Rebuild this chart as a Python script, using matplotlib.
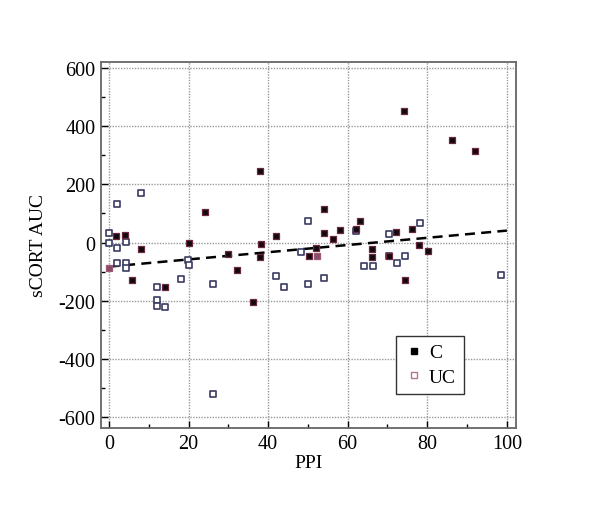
import matplotlib
matplotlib.use("Agg")
import matplotlib.pyplot as plt
from matplotlib.lines import Line2D
from matplotlib.ticker import MultipleLocator

plt.rcParams['font.family'] = ['Liberation Serif', 'DejaVu Serif']
plt.rcParams['axes.unicode_minus'] = False

# ---- data ----
c_x = [1.9, 4.0, 8.0, 5.9, 14.0, 20.0, 24.1, 30.0, 32.2, 36.2, 38.0, 38.1, 38.0,
       42.0, 50.2, 52.1, 54.0, 54.0, 56.2, 58.1, 62.2, 63.1, 66.2, 66.2, 70.4,
       72.2, 74.3, 74.2, 76.1, 78.0, 80.2, 86.2, 92.1]
c_y = [21, 27, -22, -129, -152, 0, 106, -40, -94, -205, 245, -6, -51,
       24, -46, -19, 115, 32, 11, 43, 45, 73, -23, -51, -46,
       37, -129, 453, 46, -9, -28, 354, 315]

uc_x = [0.0, 0.0, 2.1, 8.1, 4.2, 2.0, 2.0, 4.2, 4.2, 12.1, 12.1, 12.1, 14.1,
        18.2, 19.8, 20.0, 26.1, 26.1, 42.1, 44.1, 48.2, 50.1, 50.1, 54.1,
        62.2, 64.2, 66.3, 70.4, 70.4, 72.3, 74.4, 78.1, 98.5]
uc_y = [33, 0, 132, 169, 3, -19, -72, -72, -88, -154, -197, -217, -221,
        -124, -60, -77, -144, -520, -115, -154, -33, 74, -144, -122,
        38, -82, -82, 30, -48, -69, -46, 66, -112]

# points where both groups overlap (drawn in the mixed colour)
mix_x = [0.0, 52.2]
mix_y = [-88, -48]

# regression line: intercept and slope
fit_intercept = -83
fit_slope = 1.24
fit_x = [0, 100]

x_ticks = [0, 20, 40, 60, 80, 100]
y_ticks = [-600, -400, -200, 0, 200, 400, 600]

# ---- figure ----
fig = plt.figure(figsize=(6.0, 5.06), dpi=100)
ax = fig.add_axes([0.1683, 0.1522, 0.6917, 0.7239])

ax.set_xlim(-2, 102.3)
ax.set_ylim(-638, 622)

ax.grid(True, which='major', linestyle=(0, (1, 1)), color='#999999', linewidth=1.0)
ax.set_axisbelow(True)

fit_y = [fit_intercept + fit_slope * v for v in fit_x]
ax.plot(fit_x, fit_y, linestyle=(0, (4, 2.5)), color='black', linewidth=1.8, zorder=2)

ax.scatter(uc_x, uc_y, marker='s', s=25, facecolors='white', edgecolors='#3a3a62',
           linewidths=1.2, zorder=3)
ax.scatter(c_x, c_y, marker='s', s=24, facecolors='#140810', edgecolors='#6a2a3c',
           linewidths=0.9, zorder=4)
ax.scatter(mix_x, mix_y, marker='s', s=24, facecolors='#8a4a68', edgecolors='#9a5a78',
           linewidths=0.9, zorder=4)

ax.set_xticks(x_ticks)
ax.set_yticks(y_ticks)
ax.xaxis.set_minor_locator(MultipleLocator(10))
ax.yaxis.set_minor_locator(MultipleLocator(100))
ax.tick_params(which='both', direction='in', top=False, right=False,
               labelsize=14.5, colors='black')
ax.tick_params(which='major', length=5, width=1, pad=4)
ax.tick_params(which='minor', length=3, width=1)
for s in ax.spines.values():
    s.set_color('#666666')
    s.set_linewidth(1.3)

ax.set_xlabel('PPI', fontsize=14, labelpad=1)
ax.set_ylabel('sCORT AUC', fontsize=14, labelpad=8)

handles = [
    Line2D([], [], marker='s', linestyle='none', markersize=5,
           markerfacecolor='black', markeredgecolor='black'),
    Line2D([], [], marker='s', linestyle='none', markersize=4.5,
           markerfacecolor='white', markeredgecolor='#b07888', markeredgewidth=1.0),
]
leg = ax.legend(handles, ['C', 'UC'], loc='upper left',
                bbox_to_anchor=(0.711, 0.251), fontsize=14, frameon=True,
                fancybox=False, edgecolor='#333333', framealpha=1,
                handletextpad=0.3, borderpad=0.4, labelspacing=0.35,
                handlelength=1.0, borderaxespad=0)
leg.get_frame().set_linewidth(1.0)

fig.savefig('out.png', dpi=100)
